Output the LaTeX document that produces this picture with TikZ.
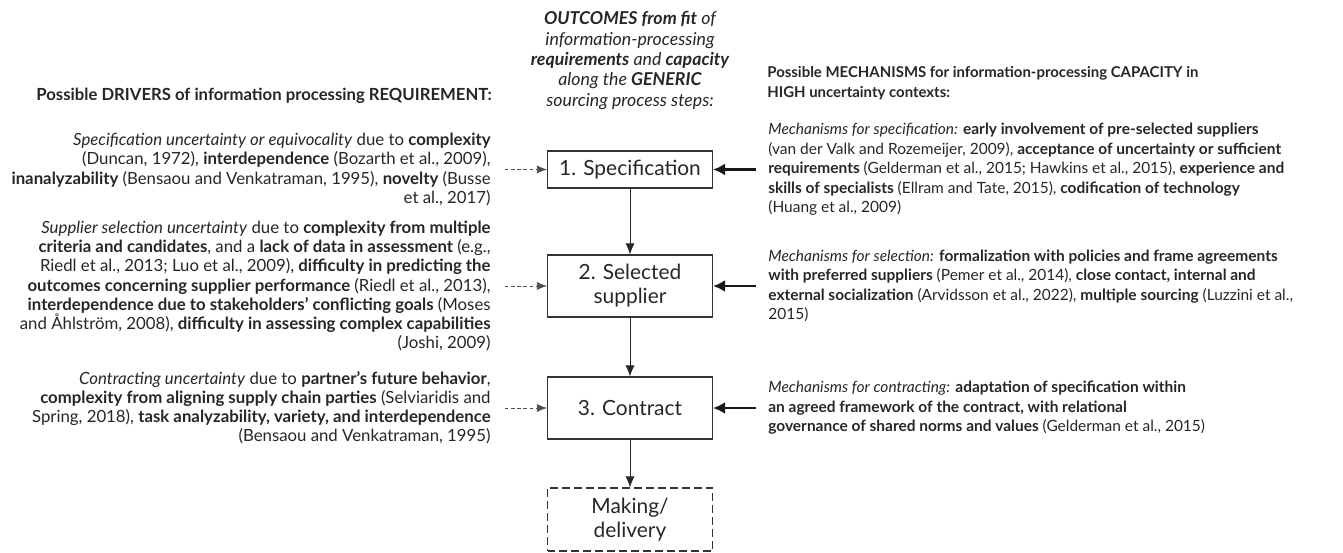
\documentclass[tikz,border=0pt]{standalone}
\usepackage{fontspec}
\setmainfont{Lato}
\usepackage{tikz}
\usetikzlibrary{arrows.meta}
\usetikzlibrary{positioning}

\tikzset{
  stepbox/.style={draw=black!80, line width=0.6pt, minimum width=3.3cm, minimum height=1.24cm,
    align=center, text=black!85, font=\fontsize{11.9}{13.7}\selectfont},
  drivertext/.style={align=right, inner sep=0pt, text=black!85, font=\fontsize{9.55}{10.9}\selectfont},
  mechtext/.style={align=left, inner sep=0pt, text=black!85, font=\fontsize{8.8}{11.05}\selectfont},
  flowarrow/.style={-{Latex[length=2.2mm,width=1.8mm]}, line width=0.5pt, black!85},
  drivearrow/.style={-{Latex[length=2mm,width=1.6mm]}, dash pattern=on 2pt off 1.5pt, line width=0.4pt, black!70},
  mecharrow/.style={-{Latex[length=2.4mm,width=2.4mm]}, line width=1.7pt, black!90},
}

\begin{document}
\begin{tikzpicture}
\useasboundingbox (0,0) rectangle (26.86,-11.06);

% the generic sourcing steps
\node[stepbox, minimum height=0.74cm] (spec) at (12.6,-3.39) {1. Specification};
\node[stepbox] (sel) at (12.6,-5.72) {2. Selected\\supplier};
\node[stepbox] (con) at (12.6,-8.16) {3. Contract};
\node[stepbox, minimum height=1.26cm, dash pattern=on 4.5pt off 2.3pt] (make) at (12.6,-10.39) {Making/\\delivery};

\draw[flowarrow] (spec) -- (sel);
\draw[flowarrow] (sel) -- (con);
\draw[flowarrow] (con) -- (make);

% headers
\node[drivertext, anchor=east, font=\fontsize{9.5}{10.8}\selectfont\bfseries] (drvhead) at (9.84,-1.92)
  {Possible DRIVERS of information processing REQUIREMENT:};
\node[align=center, inner sep=0pt, text=black!85, font=\fontsize{10.1}{11.6}\selectfont\itshape] (outhead) at (12.6,-1.21)
  {\textbf{OUTCOMES from fit} of\\
   information-processing\\
   \textbf{requirements} and \textbf{capacity}\\
   along the \textbf{GENERIC}\\
   sourcing process steps:};
\node[mechtext, anchor=west, font=\fontsize{8.5}{11.05}\selectfont\bfseries] (mechhead) at (15.34,-1.66)
  {Possible MECHANISMS for information-processing CAPACITY in\\
   HIGH uncertainty contexts:};

% drivers of requirement
\node[drivertext, left=1.12cm of spec] (drv1)
  {\textit{Specification uncertainty or equivocality} due to \textbf{complexity}\\
   (Duncan, 1972), \textbf{interdependence} (Bozarth et al., 2009),\\
   \textbf{inanalyzability} (Bensaou and Venkatraman, 1995), \textbf{novelty} (Busse\\
   et al., 2017)};
\node[drivertext, left=1.12cm of sel] (drv2)
  {\textit{Supplier selection uncertainty} due to \textbf{complexity from multiple}\\
   \textbf{criteria and candidates}, and a \textbf{lack of data in assessment} (e.g.,\\
   Riedl et al., 2013; Luo et al., 2009), \textbf{difficulty in predicting the}\\
   \textbf{outcomes concerning supplier performance} (Riedl et al., 2013),\\
   \textbf{interdependence due to stakeholders’ conflicting goals} (Moses\\
   and Åhlström, 2008), \textbf{difficulty in assessing complex capabilities}\\
   (Joshi, 2009)};
\node[drivertext, left=1.12cm of con] (drv3)
  {\textit{Contracting uncertainty} due to \textbf{partner’s future behavior},\\
   \textbf{complexity from aligning supply chain parties} (Selviaridis and\\
   Spring, 2018), \textbf{task analyzability, variety, and interdependence}\\
   (Bensaou and Venkatraman, 1995)};

% mechanisms for capacity
\node[mechtext, right=1.1cm of spec] (mech1)
  {\textit{Mechanisms for specification:} \textbf{early involvement of pre-selected suppliers}\\
   (van der Valk and Rozemeijer, 2009), \textbf{acceptance of uncertainty or sufficient}\\
   \textbf{requirements} (Gelderman et al., 2015; Hawkins et al., 2015), \textbf{experience and}\\
   \textbf{skills of specialists} (Ellram and Tate, 2015), \textbf{codification of technology}\\
   (Huang et al., 2009)};
\node[mechtext, right=1.1cm of sel] (mech2)
  {\textit{Mechanisms for selection:} \textbf{formalization with policies and frame agreements}\\
   \textbf{with preferred suppliers} (Pemer et al., 2014), \textbf{close contact, internal and}\\
   \textbf{external socialization} (Arvidsson et al., 2022), \textbf{multiple sourcing} (Luzzini et al.,\\
   2015)};
\node[mechtext, right=1.1cm of con] (mech3)
  {\textit{Mechanisms for contracting:} \textbf{adaptation of specification within}\\
   \textbf{an agreed framework of the contract, with relational}\\
   \textbf{governance of shared norms and values} (Gelderman et al., 2015)};

% arrows into the steps
\draw[drivearrow, shorten <=0.28cm] (drv1.east |- spec.west) -- (spec.west);
\draw[drivearrow, shorten <=0.28cm] (drv2.east |- sel.west) -- (sel.west);
\draw[drivearrow, shorten <=0.28cm] (drv3.east |- con.west) -- (con.west);
\draw[mecharrow, shorten <=0.24cm] (mech1.west |- spec.east) -- (spec.east);
\draw[mecharrow, shorten <=0.24cm] (mech2.west |- sel.east) -- (sel.east);
\draw[mecharrow, shorten <=0.24cm] (mech3.west |- con.east) -- (con.east);
\end{tikzpicture}
\end{document}
